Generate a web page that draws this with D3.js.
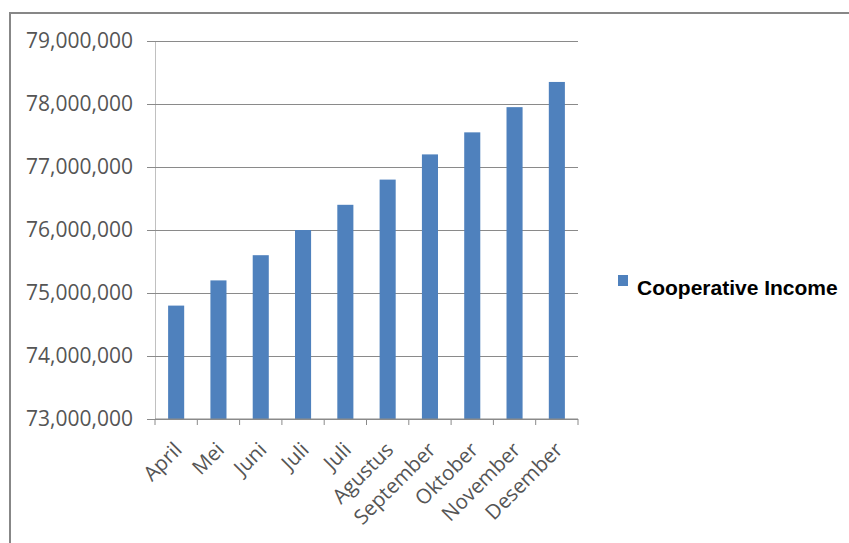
<!DOCTYPE html>
<html>
<head>
<meta charset="utf-8">
<script src="https://cdn.jsdelivr.net/npm/d3@7"></script>
<style>
  body { margin: 0; background: #fff; }
  svg { display: block; }
</style>
</head>
<body>
<svg width="849" height="543"></svg>
<script>
// chart data
var months = ["April", "Mei", "Juni", "Juli", "Juli", "Agustus", "September", "Oktober", "November", "Desember"];
var income = [74800000, 75200000, 75600000, 76000000, 76400000, 76800000, 77200000, 77550000, 77950000, 78350000];
var yTicks = [73000000, 74000000, 75000000, 76000000, 77000000, 78000000, 79000000];
var seriesName = "Cooperative Income";

var svg = d3.select("svg"),
  margin = { top: 41, left: 155 },
  width = 423,
  height = 378;

// outer chart frame (runs off the picture on the right / bottom)
svg.append("rect")
  .attr("x", 10)
  .attr("y", 13)
  .attr("width", 900)
  .attr("height", 600)
  .attr("fill", "#fff")
  .attr("stroke", "#878787")
  .attr("stroke-width", 2);

var g = svg.append("g")
  .attr("transform", "translate(" + margin.left + "," + margin.top + ")");

var x = d3.scaleBand()
  .domain(d3.range(months.length))
  .range([0, width])
  .paddingInner(0.62)
  .paddingOuter(0.31);

var y = d3.scaleLinear()
  .domain([73000000, 79000000])
  .range([height, 0]);

var fmt = d3.format(",");

// y axis with gridlines
var yAxis = g.append("g")
  .attr("class", "axis axis--y")
  .call(d3.axisLeft(y).tickValues(yTicks).tickSize(-width).tickSizeOuter(0).tickFormat(fmt).tickPadding(22));
yAxis.select(".domain").attr("stroke", "#c0c0c0");
yAxis.selectAll(".tick line")
  .attr("x1", -8)
  .attr("stroke", "#8a8a8a")
  .attr("stroke-width", 1);
yAxis.selectAll(".tick text")
  .attr("font-family", "'Open Sans', sans-serif")
  .attr("font-size", 21)
  .attr("fill", "#555")
  .attr("dy", "0.33em");

// bars
g.selectAll(".bar")
  .data(income)
  .enter()
  .append("rect")
  .attr("class", "bar")
  .attr("x", function(d, i) { return x(i); })
  .attr("y", function(d) { return y(d); })
  .attr("width", x.bandwidth())
  .attr("height", function(d) { return height - y(d); })
  .attr("fill", "#4f81bd");

// x axis: category boundaries as ticks
var xAxis = g.append("g")
  .attr("class", "axis axis--x")
  .attr("transform", "translate(0," + height + ")");
xAxis.append("line")
  .attr("x1", 0)
  .attr("x2", width)
  .attr("stroke", "#8a8a8a");
xAxis.selectAll(".xt")
  .data(d3.range(months.length + 1))
  .enter()
  .append("line")
  .attr("class", "xt")
  .attr("x1", function(d) { return d * width / months.length; })
  .attr("x2", function(d) { return d * width / months.length; })
  .attr("y1", 0)
  .attr("y2", 6)
  .attr("stroke", "#8a8a8a");
xAxis.selectAll(".xl")
  .data(months)
  .enter()
  .append("text")
  .attr("class", "xl")
  .attr("text-anchor", "end")
  .attr("font-family", "'Open Sans', sans-serif")
  .attr("font-size", 20.5)
  .attr("fill", "#555")
  .attr("transform", function(d, i) {
    return "translate(" + (x(i) + x.bandwidth() / 2 + 2) + ",27) rotate(-45)";
  })
  .attr("dy", "0.35em")
  .text(function(d) { return d; });

// legend
var legend = svg.append("g")
  .attr("transform", "translate(618,275)");
legend.append("rect")
  .attr("width", 10)
  .attr("height", 11)
  .attr("fill", "#4f81bd");
legend.append("text")
  .attr("x", 19)
  .attr("y", 20)
  .attr("font-family", "'Liberation Sans', Arial, sans-serif")
  .attr("font-weight", "bold")
  .attr("font-size", 21)
  .attr("fill", "#000")
  .text(seriesName);
</script>
</body>
</html>
